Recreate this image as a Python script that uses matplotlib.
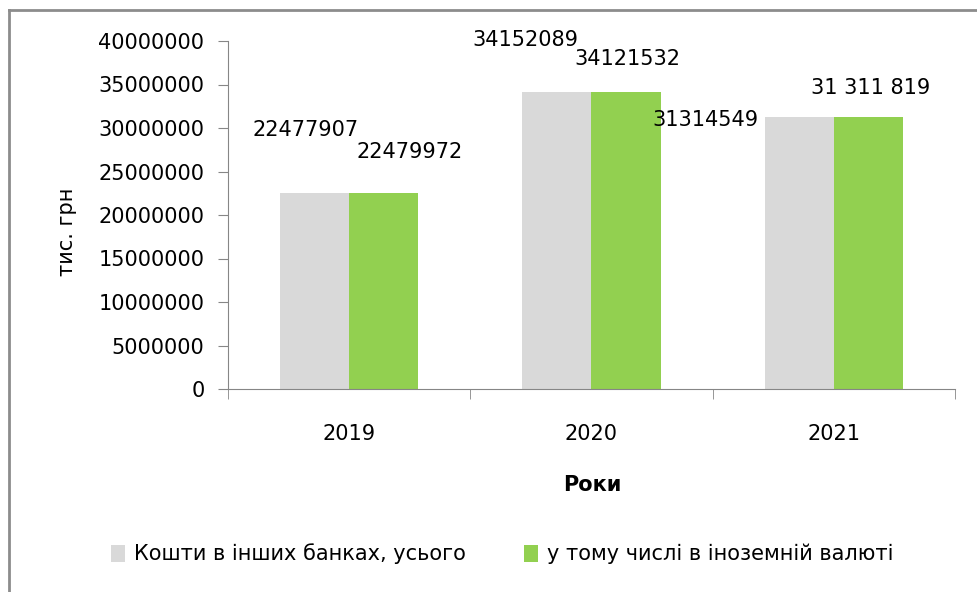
import numpy as np
import matplotlib.pyplot as plt
from matplotlib.lines import Line2D

years = ['2019', '2020', '2021']
total = [22477907, 34152089, 31314549]
foreign = [22479972, 34121532, 31311819]
total_labels = ['22477907', '34152089', '31314549']
foreign_labels = ['22479972', '34121532', '31 311 819']
series_names = ['Кошти в інших банках, усього', 'у тому числі в іноземній валюті']

# label offsets (x in category units, y in data units) - labels were moved by hand in the original
total_off = [(-0.036, 7.24e6), (-0.13, 5.96e6), (-0.386, -0.4e6)]
foreign_off = [(0.105, 4.75e6), (0.006, 3.8e6), (0.01, 3.3e6)]

plt.rcParams['font.family'] = ['DejaVu Sans']
grey = '#d9d9d9'
green = '#92d050'
axis_col = '#868686'

fig = plt.figure(figsize=(9.78, 5.92), dpi=100)
ax = fig.add_axes([228/978, 1 - 389/592, (955 - 228)/978, (389 - 41)/592])

x = np.arange(len(years))
w = 0.2857
ax.bar(x - w/2, total, w, color=grey, label=series_names[0])
ax.bar(x + w/2, foreign, w, color=green, label=series_names[1])

for i in range(len(years)):
    ax.text(x[i] - w/2 + total_off[i][0], total[i] + total_off[i][1], total_labels[i],
            ha='center', va='center', fontsize=15)
    ax.text(x[i] + w/2 + foreign_off[i][0], foreign[i] + foreign_off[i][1], foreign_labels[i],
            ha='center', va='center', fontsize=15)

ax.set_xlim(-0.5, 2.5)
ax.set_ylim(0, 40000000)
ax.set_yticks(np.arange(0, 40000001, 5000000))
ax.set_yticklabels([str(v) for v in range(0, 40000001, 5000000)], fontsize=15)
ax.set_xticks(x)
ax.set_xticklabels(years, fontsize=15)
ax.set_xticks([-0.5, 0.5, 1.5, 2.5], minor=True)
ax.tick_params(axis='x', which='major', length=0, pad=25)
ax.tick_params(axis='x', which='minor', length=7, color=axis_col, direction='out')
ax.tick_params(axis='y', length=7, color=axis_col, direction='out', pad=10)

for s in ['top', 'right']:
    ax.spines[s].set_visible(False)
for s in ['left', 'bottom']:
    ax.spines[s].set_color(axis_col)

fig.text(67/978, 1 - 232/592, 'тис. грн', rotation=90, ha='center', va='center', fontsize=15)
fig.text(592/978, 1 - 485/592, 'Роки', ha='center', va='center', fontsize=15, fontweight='bold')

fig.legend(loc='center', bbox_to_anchor=(502/978, 1 - 554/592), ncol=2, frameon=False,
           fontsize=15, handlelength=0.7, handleheight=0.9, columnspacing=2.8, handletextpad=0.4)

# outer chart border (left and top edges visible)
fig.add_artist(Line2D([9/978, 9/978], [0, 1 - 10/592], transform=fig.transFigure, color='#8c8c8c', lw=2))
fig.add_artist(Line2D([9/978, 1], [1 - 10/592, 1 - 10/592], transform=fig.transFigure, color='#8c8c8c', lw=2))

fig.savefig('out.png', dpi=100)
